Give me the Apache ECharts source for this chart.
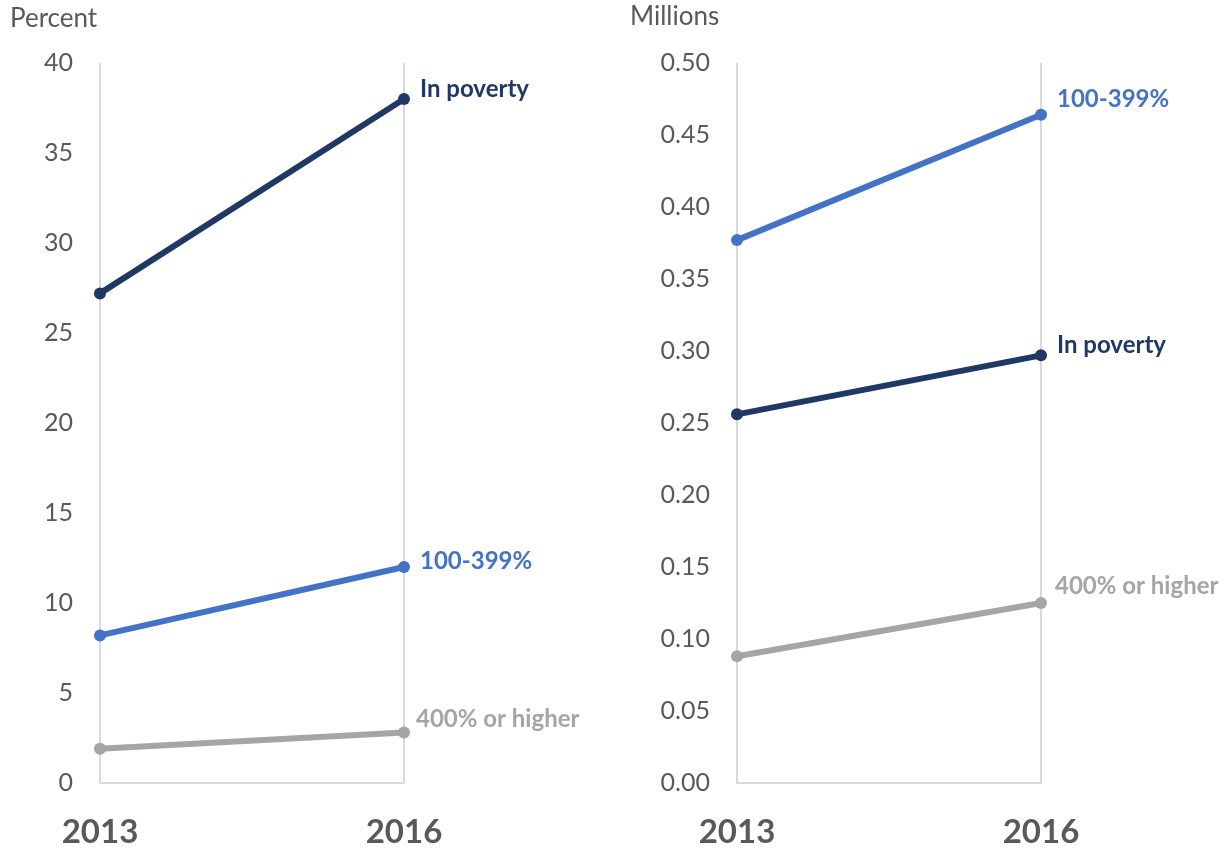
<!DOCTYPE html>
<html>
<head>
<meta charset="utf-8">
<script src="https://cdn.jsdelivr.net/npm/echarts@6/dist/echarts.min.js"></script>
<style>
  html, body { margin: 0; padding: 0; background: #fff; }
  #chart { width: 1228px; height: 849px; }
</style>
</head>
<body>
<div id="chart"></div>
<script>
// data
const years = ['2013', '2016']
const seriesNames = ['In poverty', '100-399%', '400% or higher']
const percentPoverty = [27.2, 38.0]
const percentMid = [8.2, 12.0]
const percentHigh = [1.9, 2.8]
const millionsPoverty = [0.256, 0.297]
const millionsMid = [0.377, 0.464]
const millionsHigh = [0.088, 0.125]
const percentTicks = [0, 5, 10, 15, 20, 25, 30, 35, 40]
const millionTicks = [0, 0.05, 0.1, 0.15, 0.2, 0.25, 0.3, 0.35, 0.4, 0.45, 0.5]

const colors = ['#203864', '#4472C4', '#A5A5A5']
const font = 'Lato, "Open Sans", sans-serif'

function line (name, data, idx, gi, offset) {
  return {
    name: name,
    type: 'line',
    xAxisIndex: gi,
    yAxisIndex: gi,
    data: data,
    symbol: 'circle',
    symbolSize: 12,
    lineStyle: { width: 6, color: colors[idx] },
    itemStyle: { color: colors[idx] },
    endLabel: {
      show: true,
      formatter: name,
      offset: offset,
      color: colors[idx],
      fontFamily: font,
      fontWeight: 'bold',
      fontSize: 24
    },
    animation: false
  }
}

function xAxis (gi) {
  return {
    type: 'category',
    gridIndex: gi,
    data: years,
    boundaryGap: false,
    axisLine: { show: true, lineStyle: { color: '#d9d9d9', width: 2 } },
    axisTick: { show: false },
    splitLine: { show: true, lineStyle: { color: '#d9d9d9', width: 2 } },
    axisLabel: { color: '#595959', fontFamily: font, fontWeight: 'bold', fontSize: 33, margin: 33 }
  }
}

function yAxis (gi, max, interval, fmt) {
  return {
    type: 'value',
    gridIndex: gi,
    min: 0,
    max: max,
    interval: interval,
    axisLine: { show: false },
    axisTick: { show: false },
    splitLine: { show: false },
    axisLabel: { color: '#595959', fontFamily: font, fontSize: 25, margin: 27, formatter: fmt }
  }
}

const myChart = echarts.init(document.getElementById('chart'))
myChart.setOption({
  backgroundColor: '#fff',
  graphic: [
    { type: 'text', left: 10, top: 6, style: { text: 'Percent', fill: '#595959', font: '26px ' + font } },
    { type: 'text', left: 630, top: 4, style: { text: 'Millions', fill: '#595959', font: '26px ' + font } }
  ],
  grid: [
    { left: 100, right: 824, top: 63, bottom: 63 },
    { left: 737, right: 187, top: 63, bottom: 63 }
  ],
  xAxis: [xAxis(0), xAxis(1)],
  yAxis: [
    yAxis(0, percentTicks[percentTicks.length - 1], percentTicks[1], v => String(v)),
    yAxis(1, millionTicks[millionTicks.length - 1], millionTicks[1], v => v.toFixed(2))
  ],
  series: [
    line(seriesNames[0], percentPoverty, 0, 0, [8, -10]),
    line(seriesNames[1], percentMid, 1, 0, [8, -6]),
    line(seriesNames[2], percentHigh, 2, 0, [4, -13]),
    line(seriesNames[1], millionsMid, 1, 1, [8, -16]),
    line(seriesNames[0], millionsPoverty, 0, 1, [8, -10]),
    line(seriesNames[2], millionsHigh, 2, 1, [6, -17])
  ]
})
</script>
</body>
</html>
